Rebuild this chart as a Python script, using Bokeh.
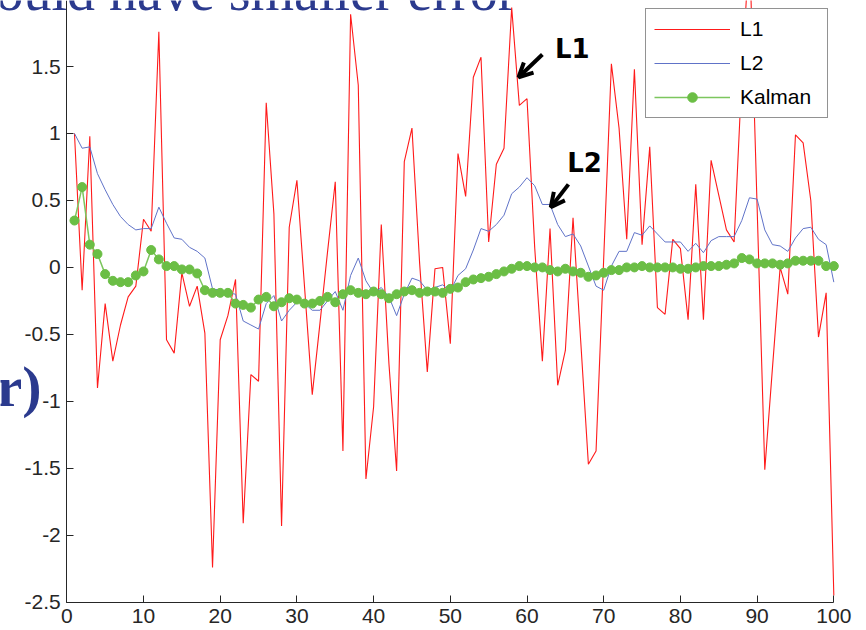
from bokeh.plotting import figure
from bokeh.models import FixedTicker, Range1d, Arrow, OpenHead
from bokeh.core.properties import value
from bokeh.embed import file_html
from bokeh.resources import INLINE

# ---------------- data ----------------
x = list(range(1, 101))

l1 = [1.00, -0.17, 0.98, -0.90, -0.27, -0.70, -0.43, -0.22, -0.14, 0.36,
      0.27, 1.76, -0.54, -0.64, -0.04, -0.29, -0.14, -0.49, -2.24, -0.54,
      -0.36, -0.09, -1.91, -0.80, -0.85, 1.23, 0.40, -1.93, 0.30, 0.65,
      -0.15, -0.95, -0.42, 0.12, 0.64, -1.37, 1.89, 1.36, -1.58, -1.04,
      0.32, -0.72, -1.52, 0.79, 1.04, 0.03, -0.78, -0.01, 0.00, -0.57,
      0.85, 0.53, 1.42, 1.57, 0.19, 0.77, 0.89, 1.94, 1.21, 1.26,
      0.15, -0.70, 0.29, -0.88, -0.62, 0.37, -0.55, -1.47, -1.37, 0.07,
      1.52, 1.04, 0.21, 1.48, 0.17, 0.90, -0.30, -0.35, 0.21, 0.14,
      -0.39, 0.62, -0.39, 0.80, 0.54, 0.28, 0.19, 1.42, 2.40, 0.45,
      -1.51, -0.75, 0.00, -0.20, 0.99, 0.93, 0.50, -0.52, -0.19, -2.45]

l2 = [1.00, 0.89, 0.90, 0.70, 0.58, 0.47, 0.38, 0.32, 0.28, 0.29,
      0.29, 0.45, 0.33, 0.22, 0.21, 0.15, 0.12, 0.07, -0.16, -0.17,
      -0.19, -0.20, -0.40, -0.43, -0.46, -0.27, -0.21, -0.40, -0.32, -0.26,
      -0.27, -0.32, -0.32, -0.25, -0.18, -0.32, -0.06, 0.07, -0.10, -0.19,
      -0.15, -0.22, -0.36, -0.20, -0.08, -0.10, -0.17, -0.15, -0.13, -0.18,
      -0.06, -0.01, 0.13, 0.29, 0.27, 0.32, 0.39, 0.55, 0.60, 0.67,
      0.61, 0.47, 0.47, 0.32, 0.23, 0.25, 0.16, 0.01, -0.14, -0.17,
      0.01, 0.12, 0.12, 0.26, 0.24, 0.31, 0.25, 0.19, 0.19, 0.19,
      0.12, 0.18, 0.11, 0.20, 0.23, 0.23, 0.23, 0.35, 0.52, 0.51,
      0.28, 0.17, 0.16, 0.12, 0.22, 0.29, 0.30, 0.21, 0.17, -0.11]

kalman = [0.35, 0.60, 0.17, 0.10, -0.05, -0.10, -0.11, -0.11, -0.06, -0.03,
          0.13, 0.06, 0.01, 0.01, -0.015, -0.015, -0.045, -0.17, -0.19, -0.19,
          -0.19, -0.27, -0.28, -0.30, -0.24, -0.22, -0.29, -0.26, -0.23, -0.24,
          -0.27, -0.27, -0.25, -0.22, -0.26, -0.20, -0.17, -0.19, -0.20, -0.18,
          -0.20, -0.23, -0.20, -0.18, -0.17, -0.19, -0.18, -0.18, -0.19, -0.16,
          -0.15, -0.11, -0.09, -0.08, -0.07, -0.05, -0.03, -0.01, 0.01, 0.01,
          0.00, 0.00, -0.02, -0.03, -0.01, -0.03, -0.04, -0.07, -0.06, -0.04,
          -0.02, -0.02, 0.00, 0.00, 0.01, 0.00, 0.00, 0.00, 0.00, -0.01,
          -0.01, 0.00, 0.01, 0.01, 0.01, 0.02, 0.03, 0.07, 0.06, 0.03,
          0.03, 0.03, 0.02, 0.03, 0.05, 0.05, 0.05, 0.05, 0.01, 0.01]

series_names = ["L1", "L2", "Kalman"]
xticks = [0, 10, 20, 30, 40, 50, 60, 70, 80, 90, 100]
yticks = [-2.5, -2, -1.5, -1, -0.5, 0, 0.5, 1, 1.5]
ytick_labels = ["-2.5", "-2", "-1.5", "-1", "-0.5", "0", "0.5", "1", "1.5"]

# slide text around the chart and handwritten notes
top_text = "ould have smaller error"
side_text = "r)"
note1 = "L1"
note2 = "L2"

# ---------------- figure ----------------
p = figure(width=866, height=630, output_backend="svg", toolbar_location=None,
           x_range=Range1d(-8.644, 104.26), y_range=Range1d(-2.711, 1.993),
           min_border_left=0, min_border_right=0, min_border_top=0,
           min_border_bottom=0)
p.outline_line_color = None
p.grid.visible = False
p.background_fill_color = "white"
p.border_fill_color = "white"

axis_col = "#262626"
for ax in (p.xaxis[0], p.yaxis[0]):
    ax.axis_line_color = axis_col
    ax.axis_line_width = 1
    ax.major_tick_line_color = axis_col
    ax.major_tick_in = 7
    ax.major_tick_out = 0
    ax.minor_tick_line_color = None
    ax.major_label_text_font = "Liberation Sans"
    ax.major_label_text_font_size = "21px"
    ax.major_label_text_color = axis_col

p.xaxis.ticker = FixedTicker(ticks=xticks)
p.xaxis.major_label_standoff = 7
p.xaxis.bounds = (0, 100)
p.xaxis.fixed_location = -2.5
p.yaxis.ticker = FixedTicker(ticks=yticks)
p.yaxis.major_label_standoff = 6
p.yaxis.bounds = (-2.5, 2.5)
p.yaxis.fixed_location = 0
p.yaxis.major_label_overrides = {(int(v) if float(v).is_integer() else v): lab
                                 for v, lab in zip(yticks, ytick_labels)}

p.line(x, l1, line_color="#FF1A1A", line_width=1.1, legend_label=series_names[0])
p.line(x, l2, line_color="#6073C8", line_width=1, legend_label=series_names[1])
p.line(x, kalman, line_color="#7CC65E", line_width=1.5, legend_label=series_names[2])
p.scatter(x, kalman, size=9, fill_color="#6BBE45", line_color="#6BBE45",
          legend_label=series_names[2])

legend = p.legend[0]
legend.location = (645, 512)
legend.border_line_color = "#262626"
legend.border_line_width = 1.5
legend.background_fill_color = "white"
legend.background_fill_alpha = 1
legend.label_text_font = "Liberation Sans"
legend.label_text_font_size = "21px"
legend.label_text_color = "#000000"
legend.glyph_width = 76
legend.glyph_height = 24
legend.label_height = 24
legend.label_width = 79
legend.label_standoff = 10
legend.spacing = 10
legend.padding = 8
legend.margin = 0

# handwritten notes
p.add_layout(Arrow(end=OpenHead(size=14, line_width=4, line_color="black"),
                   x_start=62.0, y_start=1.59, x_end=58.9, y_end=1.42,
                   line_width=4, line_color="black"))
p.add_layout(Arrow(end=OpenHead(size=14, line_width=4, line_color="black"),
                   x_start=65.4, y_start=0.62, x_end=63.1, y_end=0.45,
                   line_width=4, line_color="black"))
p.text(x=[65.9, 67.5], y=[1.63, 0.78], text=[note1, note2],
       text_font=value("DejaVu Sans"), text_font_style="bold",
       text_font_size="26px", text_color="black",
       text_align="center", text_baseline="middle")

# slide texts (partly cut like the reference screenshot)
p.text(x=[-9.3], y=[2.065], text=[top_text], text_font=value("Liberation Serif"),
       text_font_size="56px", text_color="#2B3A8E",
       text_align="left", text_baseline="alphabetic")
p.text(x=[-3.3], y=[-0.89], text=[side_text], text_font=value("Liberation Serif"),
       text_font_style="bold", text_font_size="58px", text_color="#2B3A8E",
       text_align="right", text_baseline="alphabetic")

open("out.html", "w").write(file_html(p, INLINE))
